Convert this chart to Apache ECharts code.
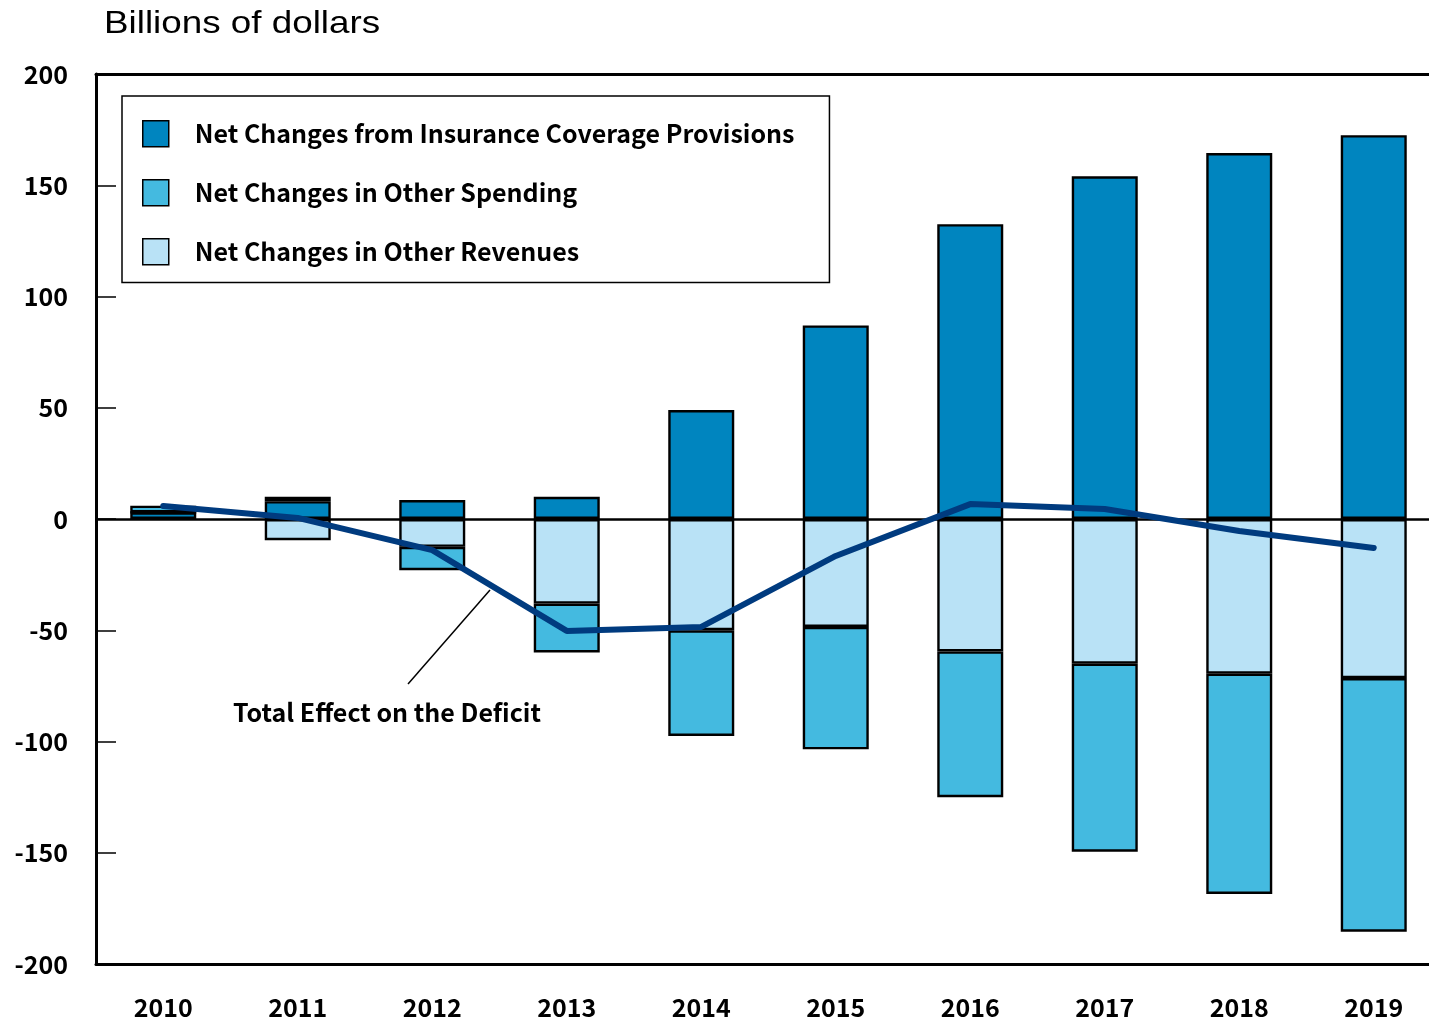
<!DOCTYPE html>
<html>
<head>
<meta charset="utf-8">
<script src="https://cdn.jsdelivr.net/npm/echarts@6/dist/echarts.min.js"></script>
<style>
  html, body { margin: 0; padding: 0; background: #fff; }
  #chart { width: 1429px; height: 1020px; }
</style>
</head>
<body>
<div id="chart"></div>
<script>
// values, billions of dollars
var years = ['2010', '2011', '2012', '2013', '2014', '2015', '2016', '2017', '2018', '2019'];
var insurance = [3, 8, 8.5, 10, 49, 87, 132.5, 154, 164.5, 172.5];
var otherSpending = [3, 2, -10.5, -22, -47.5, -55, -65.5, -84.5, -99, -114];
var otherRevenues = [0, -9.5, -12.5, -38, -50, -48.5, -59.5, -65, -69.5, -71.5];
var totalEffect = [5.8, 0.5, -14, -50.3, -48.5, -16.6, 6.7, 4.5, -5.4, -13];
var yTicks = [-200, 200, 50];

var font = '"Noto Sans CJK JP", "DejaVu Sans", sans-serif';
var myChart = echarts.init(document.getElementById('chart'));

var option = {
  animation: false,
  textStyle: { fontFamily: font },
  legend: {
    data: ['Net Changes from Insurance Coverage Provisions', 'Net Changes in Other Spending', 'Net Changes in Other Revenues'],
    orient: 'vertical',
    left: 122, top: 96,
    padding: [24, 35, 17, 20],
    itemWidth: 26, itemHeight: 26,
    itemGap: 31.5,
    icon: 'rect',
    borderColor: '#000', borderWidth: 1.5,
    itemStyle: { borderColor: '#000', borderWidth: 1.5 },
    textStyle: { fontFamily: font, fontSize: 25, fontWeight: 'bold', color: '#000', padding: [0, 0, 0, 21] },
    selectedMode: false
  },
  // the plot runs a little past the right edge of the picture
  grid: { left: 96, width: 1345, top: 74, bottom: 56, outerBoundsMode: 'none' },
  xAxis: [{
    type: 'category',
    data: years,
    axisLine: { onZero: false, lineStyle: { color: '#000', width: 3 } },
    axisTick: { inside: true, length: 20, lineStyle: { color: '#000', width: 1.5 } },
    axisLabel: { fontFamily: font, fontSize: 25, fontWeight: 'bold', color: '#000', margin: 31 }
  }, {
    type: 'category',
    data: years,
    position: 'top',
    axisLine: { onZero: false, lineStyle: { color: '#000', width: 3 } },
    axisTick: { show: false },
    axisLabel: { show: false }
  }],
  yAxis: {
    type: 'value',
    min: yTicks[0], max: yTicks[1], interval: yTicks[2],
    axisLine: { show: true, lineStyle: { color: '#000', width: 3 } },
    axisTick: { show: true, inside: true, length: 20, lineStyle: { color: '#000', width: 1.5 } },
    splitLine: { show: false },
    axisLabel: { fontFamily: font, fontSize: 25, fontWeight: 'bold', color: '#000', margin: 28 }
  },
  series: [
    {
      name: 'Net Changes from Insurance Coverage Provisions',
      type: 'bar', stack: 'total', barWidth: 66,
      data: insurance,
      itemStyle: { color: '#0085BF', borderColor: '#000', borderWidth: 2.4 },
      markLine: {
        silent: true, symbol: 'none', label: { show: false },
        lineStyle: { color: '#000', width: 2.5, type: 'solid' },
        data: [{ yAxis: 0 }]
      }
    },
    {
      name: 'Net Changes in Other Revenues',
      type: 'bar', stack: 'total', barWidth: 66,
      data: otherRevenues,
      itemStyle: { color: '#B9E2F6', borderColor: '#000', borderWidth: 2.4 }
    },
    {
      name: 'Net Changes in Other Spending',
      type: 'bar', stack: 'total', barWidth: 66,
      data: otherSpending,
      itemStyle: { color: '#44BAE0', borderColor: '#000', borderWidth: 2.4 }
    },
    {
      name: 'Total Effect on the Deficit',
      type: 'line',
      data: totalEffect,
      symbol: 'none',
      lineStyle: { color: '#003B7F', width: 6, cap: 'round' },
      z: 5,
      markLine: {
        silent: true,
        symbol: ['none', 'triangle'], symbolSize: [0, 15],
        label: { show: false },
        lineStyle: { color: '#000', width: 1.5, type: 'solid' },
        data: [[{ x: 408, y: 684 }, { x: 490, y: 590 }]]
      }
    }
  ],
  graphic: [{
    type: 'text', left: 104, top: 8,
    scaleX: 1.15,
    style: { text: 'Billions of dollars', font: '32px "Liberation Sans", Arial, sans-serif', fill: '#000' }
  }, {
    type: 'text', left: 233, top: 700,
    style: { text: 'Total Effect on the Deficit', font: 'bold 25px ' + font, fill: '#000' }
  }]
};

myChart.setOption(option);
</script>
</body>
</html>
